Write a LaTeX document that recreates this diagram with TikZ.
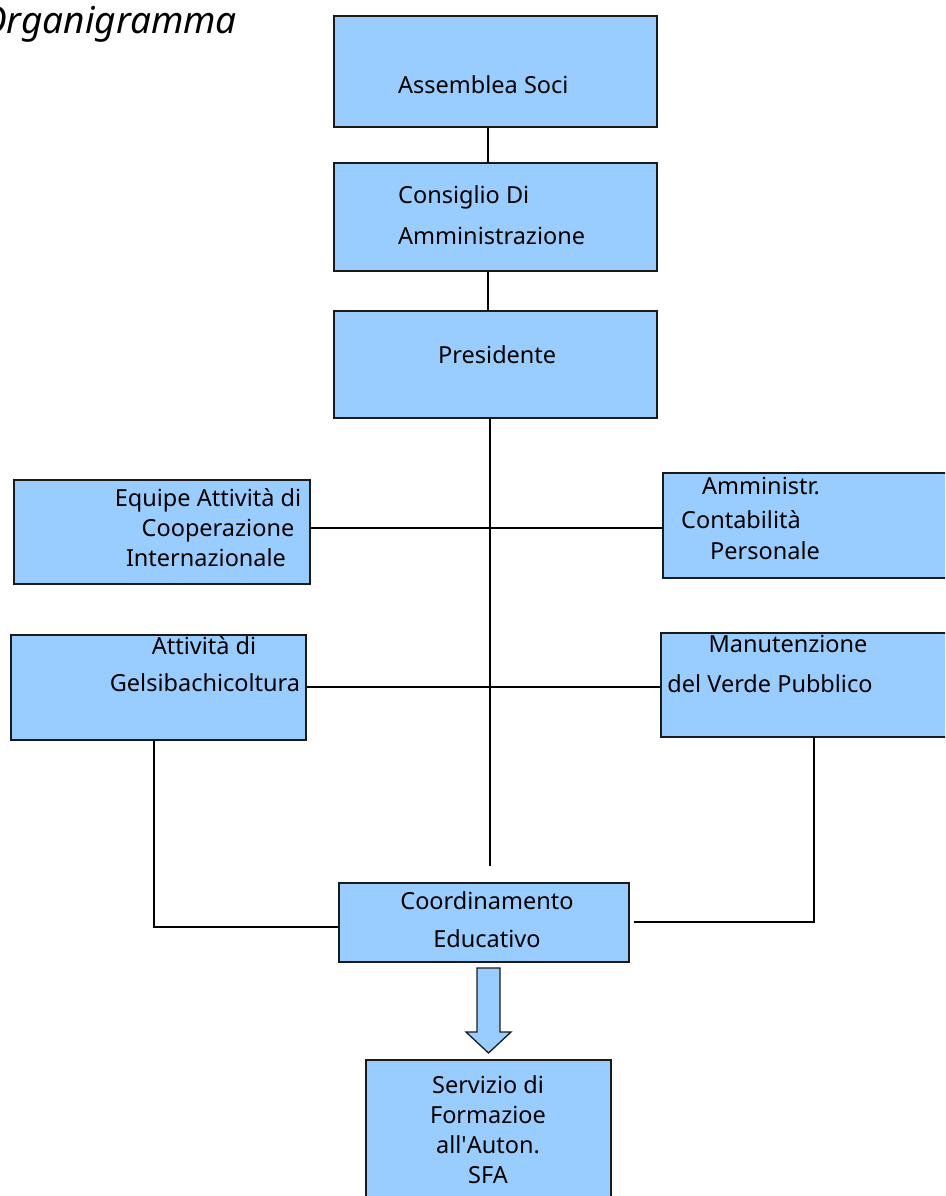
\documentclass[tikz,border=0pt]{standalone}
\usepackage{fontspec}
\setmainfont{Noto Sans}
\definecolor{boxblue}{HTML}{99CCFF}
\definecolor{edge}{HTML}{1A1A1A}
\begin{document}
\begin{tikzpicture}[x=1pt,y=-1pt,
  box/.style={draw=edge,line width=1.6pt,fill=boxblue,anchor=north west,inner sep=0pt},
  txt/.style={anchor=base west,inner sep=0pt,font=\fontsize{23.5}{28}\selectfont},
  ctxt/.style={anchor=base,inner sep=0pt,font=\fontsize{23.5}{28}\selectfont},
  conn/.style={draw=black,line width=1.5pt}]
\useasboundingbox (0,0) rectangle (945,1196);
\clip (0,0) rectangle (945,1196);
% title
\node[anchor=base west,inner sep=0pt,font=\fontsize{37}{42}\selectfont\itshape] (title) at (-20,34) {Organigramma};
% boxes
\node[box,minimum width=323pt,minimum height=111pt] (as) at (333,15) {};
\node[box,minimum width=323pt,minimum height=108pt] (cda) at (333,162) {};
\node[box,minimum width=323pt,minimum height=107pt] (pres) at (333,310) {};
\node[box,minimum width=296pt,minimum height=104pt] (eq) at (13,479) {};
\node[box,minimum width=300pt,minimum height=105pt] (am) at (662,472) {};
\node[box,minimum width=295pt,minimum height=105pt] (gel) at (10,634) {};
\node[box,minimum width=300pt,minimum height=104pt] (man) at (660,632) {};
\node[box,minimum width=290pt,minimum height=79pt] (coo) at (338,882) {};
\node[box,minimum width=245pt,minimum height=160pt] (sfa) at (365,1059) {};
% texts
\node[txt] (tas) at (398,94) {Assemblea Soci};
\node[txt] (tcda1) at (398,203) {Consiglio Di};
\node[txt] (tcda2) at (398,244) {Amministrazione};
\node[txt] (tpres) at (438,363) {Presidente};
\node[ctxt] (teq1) at (208,506) {Equipe Attività di};
\node[ctxt] (teq2) at (218,536) {Cooperazione};
\node[ctxt] (teq3) at (206,566) {Internazionale};
\node[txt] (tam1) at (702,494) {Amministr.};
\node[txt] (tam2) at (681,528) {Contabilità};
\node[txt] (tam3) at (710,559) {Personale};
\node[ctxt] (tgel1) at (204,654) {Attività di};
\node[ctxt] (tgel2) at (205,691) {Gelsibachicoltura};
\node[ctxt] (tman1) at (788,652) {Manutenzione};
\node[ctxt] (tman2) at (770,692) {del Verde Pubblico};
\node[ctxt] (tcoo1) at (487,909) {Coordinamento};
\node[ctxt] (tcoo2) at (487,947) {Educativo};
\node[ctxt] (tsfa1) at (488,1093) {Servizio di};
\node[ctxt] (tsfa2) at (488,1123) {Formazioe};
\node[ctxt] (tsfa3) at (488,1153) {all\textquotesingle Auton.};
\node[ctxt] (tsfa4) at (488,1183) {SFA};
% connectors
\coordinate (vend) at (490,866);
\draw[conn] (as.south -| 488,0) -- (cda.north -| 488,0);
\draw[conn] (cda.south -| 488,0) -- (pres.north -| 488,0);
\draw[conn] (pres.south -| 490,0) -- (vend);
\draw[conn] (eq.east |- 0,528) -- (am.west |- 0,528);
\draw[conn] (gel.east |- 0,687) -- (man.west |- 0,687);
\draw[conn] (gel.south -| 154,0) -- (154,927) -- (coo.west |- 0,927);
\draw[conn] (man.south -| 814,0) -- (814,922) -- (634,922);
% block arrow
\draw[draw=edge,line width=1.3pt,fill=boxblue,line join=miter]
  (477,968) -- (500,968) -- (500,1032) -- (511,1032) -- (488.5,1053) -- (466,1032) -- (477,1032) -- cycle;
\end{tikzpicture}
\end{document}
